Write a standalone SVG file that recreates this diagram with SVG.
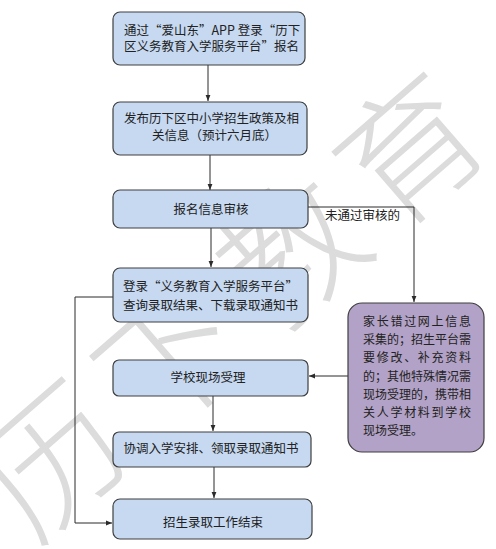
<svg xmlns="http://www.w3.org/2000/svg" width="496" height="549" viewBox="0 0 496 549">
<style>
.box{fill:#c6d9f1;stroke:#3f3f3f;stroke-width:1.2}
.pbox{fill:#b3a2c7;stroke:#3f3f3f;stroke-width:1.2}
.t{font-family:"Noto Sans CJK SC","Noto Sans CJK JP",sans-serif;font-size:12.5px;fill:#222}
.c{text-anchor:middle}
.p{font-family:"Noto Sans CJK SC","Noto Sans CJK JP",sans-serif;font-size:12px;fill:#222}
.ln{fill:none;stroke:#2b2b2b;stroke-width:1}
.wm{font-family:"Noto Sans CJK SC","Noto Sans CJK JP",sans-serif;font-size:140px;fill:#dcdcdc;font-weight:300}
</style>
<defs>
<marker id="ah" viewBox="0 0 10 10" refX="10" refY="5" markerWidth="6" markerHeight="6" orient="auto" markerUnits="userSpaceOnUse">
<path d="M0,1 L10,5 L0,9 z" fill="#2b2b2b"/>
</marker>
</defs>
<rect width="496" height="549" fill="#fff"/>
<text class="wm" transform="translate(232,292) rotate(-41)" text-anchor="middle" dominant-baseline="central" letter-spacing="18">历下教育</text>

<g id="connectors">
<path class="ln" d="M208,65 V101" marker-end="url(#ah)"/>
<path class="ln" d="M210,155 V190" marker-end="url(#ah)"/>
<path class="ln" d="M308,207 H414 V302" marker-end="url(#ah)"/>
<path class="ln" d="M211,228 V267" marker-end="url(#ah)"/>
<path class="ln" d="M113,297 H75 V523 H112" marker-end="url(#ah)"/>
<path class="ln" d="M348,376 H309" marker-end="url(#ah)"/>
<path class="ln" d="M213,396 V431" marker-end="url(#ah)"/>
<path class="ln" d="M214,467 V498" marker-end="url(#ah)"/>
<text class="t" x="325" y="220" font-size="12">未通过审核的</text>
</g>

<g id="n1">
<rect class="box" x="113" y="12" width="192" height="53" rx="7"/>
<text class="t" x="124" y="35">通过“爱山东”APP 登录“历下</text>
<text class="t" x="124" y="51">区义务教育入学服务平台”报名</text>
</g>
<g id="n2">
<rect class="box" x="113" y="102" width="194" height="53" rx="7"/>
<text class="t" x="124" y="123">发布历下区中小学招生政策及相</text>
<text class="t" x="152" y="140">关信息（预计六月底）</text>
</g>
<g id="n3">
<rect class="box" x="113" y="190" width="195" height="38" rx="7"/>
<text class="t c" x="211" y="214">报名信息审核</text>
</g>
<g id="n4">
<rect class="box" x="113" y="268" width="195" height="54" rx="7"/>
<text class="t" x="123" y="291">登录“义务教育入学服务平台”</text>
<text class="t" x="123" y="310">查询录取结果、下载录取通知书</text>
</g>
<g id="n5">
<rect class="box" x="113" y="360" width="195" height="36" rx="6"/>
<text class="t c" x="208" y="382">学校现场受理</text>
</g>
<g id="n6">
<rect class="box" x="113" y="432" width="198" height="35" rx="6"/>
<text class="t c" x="211" y="453">协调入学安排、领取录取通知书</text>
</g>
<g id="n7">
<rect class="box" x="113" y="499" width="199" height="40" rx="7"/>
<text class="t c" x="213" y="527">招生录取工作结束</text>
</g>
<g id="n8">
<rect class="pbox" x="348" y="303" width="136" height="149" rx="14"/>
<text class="p" x="363" y="326" textLength="108" lengthAdjust="spacing">家长错过网上信息</text>
<text class="p" x="363" y="344" textLength="108" lengthAdjust="spacing">采集的；招生平台需</text>
<text class="p" x="363" y="362" textLength="108" lengthAdjust="spacing">要修改、补充资料</text>
<text class="p" x="363" y="381" textLength="108" lengthAdjust="spacing">的；其他特殊情况需</text>
<text class="p" x="363" y="399" textLength="108" lengthAdjust="spacing">现场受理的，携带相</text>
<text class="p" x="363" y="417" textLength="108" lengthAdjust="spacing">关人学材料到学校</text>
<text class="p" x="363" y="435">现场受理。</text>
</g>
</svg>
